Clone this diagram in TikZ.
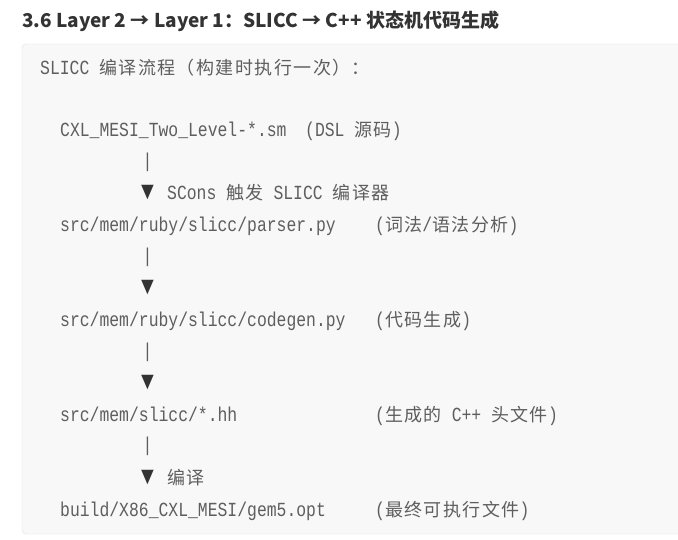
\documentclass[tikz,border=0pt]{standalone}
\usepackage{fontspec}
\newfontfamily\codefont[FakeStretch=0.82]{Liberation Mono}
\newfontfamily\cjkfont[LetterSpace=8]{Noto Sans CJK SC}
\newfontfamily\headfont{Noto Sans CJK SC}
\newcommand{\zh}[1]{{\cjkfont\fontsize{18}{24}\selectfont #1}}
\definecolor{codebg}{HTML}{F8F8F8}
\definecolor{codeborder}{HTML}{E2E2E6}
\definecolor{codetext}{HTML}{5E5E5E}
\definecolor{headtext}{HTML}{333333}

\begin{document}
\begin{tikzpicture}[x=1pt, y=-1pt,
	code/.style={anchor=west, inner sep=0pt, text height=12pt, text depth=0pt, text=codetext, font=\codefont\fontsize{20}{24}\selectfont},
	pipe/.style={inner sep=0pt, text=codetext, font=\codefont\fontsize{20}{24}\selectfont},
	tri/.style={inner sep=0pt, text=headtext, font=\codefont\fontsize{26}{28}\selectfont}]
	\useasboundingbox (0,0) rectangle (678,540);
	\fill[white] (0,0) rectangle (678,540);
	\draw[codeborder, fill=codebg, rounded corners=4pt] (22,44) rectangle (700,534);
	% heading
	\node[anchor=west, inner sep=0pt, text=headtext, font=\headfont\bfseries\fontsize{19}{22}\selectfont] (title) at (22,21) {3.6 Layer 2 → Layer 1：SLICC → C++ 状态机代码生成};
	\node[code] (intro) at (40,69) {SLICC \zh{编译流程（构建时执行一次）：}};
	% source
	\node[code] (sm) at (60,131) {CXL\_MESI\_Two\_Level-*.sm};
	\node[code] (smnote) at (305,131) {(DSL \zh{源码})};
	\node[pipe] (bar1) at (147.5,162.5) {|};
	\node[tri] (tri1) at (147.5,193) {▼};
	\node[code] (scons) at (167,194) {SCons \zh{触发} SLICC \zh{编译器}};
	% parser
	\node[code] (parser) at (60,225.5) {src/mem/ruby/slicc/parser.py};
	\node[code] (parsernote) at (375,225.5) {(\zh{词法}/\zh{语法分析})};
	\node[pipe] (bar2) at (147.5,257) {|};
	\node[tri] (tri2) at (147.5,287.5) {▼};
	% codegen
	\node[code] (codegen) at (60,320.5) {src/mem/ruby/slicc/codegen.py};
	\node[code] (codegennote) at (375,320.5) {(\zh{代码生成})};
	\node[pipe] (bar3) at (147.5,352) {|};
	\node[tri] (tri3) at (147.5,382.5) {▼};
	% headers
	\node[code] (hh) at (60,415) {src/mem/slicc/*.hh};
	\node[code] (hhnote) at (375,415) {(\zh{生成的} C++ \zh{头文件})};
	\node[pipe] (bar4) at (147.5,446.5) {|};
	\node[tri] (tri4) at (147.5,477.5) {▼};
	\node[code] (compile) at (167,478.5) {\zh{编译}};
	% binary
	\node[code] (binary) at (60,510) {build/X86\_CXL\_MESI/gem5.opt};
	\node[code] (binarynote) at (375,510) {(\zh{最终可执行文件})};
\end{tikzpicture}
\end{document}
